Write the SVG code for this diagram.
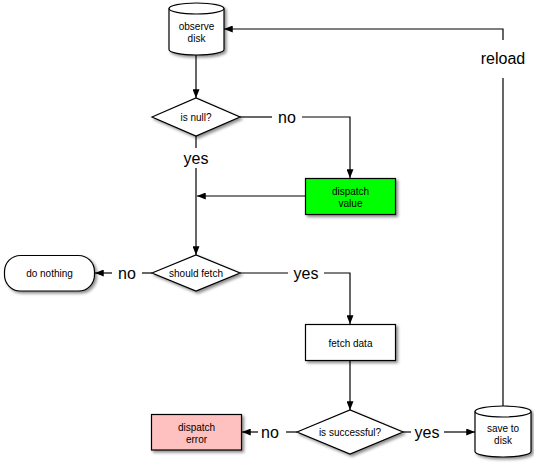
<svg xmlns="http://www.w3.org/2000/svg" width="534" height="465" viewBox="0 0 534 465">
<style>
.shape{stroke:#000;stroke-width:1.2;fill:#fff}
.t{font-family:"Liberation Sans",Arial,sans-serif;font-size:10px;fill:#000;text-anchor:middle}
.lbl{font-family:"Liberation Sans",Arial,sans-serif;font-size:16px;fill:#000;text-anchor:middle}
.c{fill:none;stroke:#000;stroke-width:1.2}
.ca{fill:none;stroke:#000;stroke-width:1.2;marker-end:url(#arr)}
</style>
<defs>
<filter id="sh" x="-20%" y="-20%" width="150%" height="150%">
<feDropShadow dx="2" dy="2" stdDeviation="1.5" flood-color="#000" flood-opacity="0.45"/>
</filter>
<marker id="arr" viewBox="0 0 10 8" refX="10" refY="4" markerWidth="9" markerHeight="7" markerUnits="userSpaceOnUse" orient="auto">
<path d="M0,0 L10,4 L0,8 z" fill="#000"/>
</marker>
</defs>
<rect width="534" height="465" fill="#fff"/>
<g id="connectors">
<path class="ca" d="M196,55 L196,98"/>
<path class="c" d="M240,117 L272,117"/>
<path class="ca" d="M302,117 L350,117 L350,178"/>
<path class="c" d="M196,136 L196,148"/>
<path class="ca" d="M196,168 L196,255"/>
<path class="ca" d="M305,196 L197,196"/>
<path class="c" d="M152,273 L142,273"/>
<path class="ca" d="M112,273 L95,273"/>
<path class="c" d="M240,273 L288,273"/>
<path class="ca" d="M324,273 L350,273 L350,324"/>
<path class="ca" d="M350,361 L350,410"/>
<path class="c" d="M297,432 L286,432"/>
<path class="ca" d="M258,432 L242,432"/>
<path class="c" d="M403,432 L411,432"/>
<path class="ca" d="M444,432 L475,432"/>
<path class="c" d="M503,406 L503,78"/>
<path class="ca" d="M503,40 L503,29 L224,29"/>
<text class="lbl" x="287" y="123">no</text>
<text class="lbl" x="196" y="164">yes</text>
<text class="lbl" x="127" y="279">no</text>
<text class="lbl" x="306" y="279">yes</text>
<text class="lbl" x="270" y="438">no</text>
<text class="lbl" x="427" y="438">yes</text>
<text class="lbl" x="503" y="64">reload</text>
</g>
<g id="observe-disk">
<path class="shape" filter="url(#sh)" d="M169,8.5 A27.5,5.5 0 0 1 224,8.5 L224,49.5 A27.5,5.5 0 0 1 169,49.5 Z"/>
<path class="c" d="M169,8.5 A27.5,5.5 0 0 0 224,8.5"/>
<text class="t" x="196.5" y="30">observe</text>
<text class="t" x="196.5" y="42">disk</text>
</g>
<g id="is-null">
<polygon class="shape" filter="url(#sh)" points="152,117 196,98 240,117 196,136"/>
<text class="t" x="196" y="120.5">is null?</text>
</g>
<g id="dispatch-value">
<rect class="shape" filter="url(#sh)" x="305.5" y="178.5" width="90" height="36" style="fill:#00ff00"/>
<text class="t" x="350.5" y="195">dispatch</text>
<text class="t" x="350.5" y="207">value</text>
</g>
<g id="should-fetch">
<polygon class="shape" filter="url(#sh)" points="152,273 196,255 240,273 196,291"/>
<text class="t" x="196" y="276.5">should fetch</text>
</g>
<g id="do-nothing">
<rect class="shape" filter="url(#sh)" x="4.5" y="255.5" width="90" height="35.5" rx="16" ry="16"/>
<text class="t" x="49.5" y="276.5">do nothing</text>
</g>
<g id="fetch-data">
<rect class="shape" filter="url(#sh)" x="305.5" y="324.5" width="90" height="36"/>
<text class="t" x="350.5" y="346.5">fetch data</text>
</g>
<g id="is-successful">
<polygon class="shape" filter="url(#sh)" points="297,432 350,410 403,432 350,454"/>
<text class="t" x="350" y="435.5">is successful?</text>
</g>
<g id="dispatch-error">
<rect class="shape" filter="url(#sh)" x="151.5" y="414.5" width="90" height="35.5" style="fill:#ffc0c0"/>
<text class="t" x="196.5" y="431">dispatch</text>
<text class="t" x="196.5" y="443">error</text>
</g>
<g id="save-to-disk">
<path class="shape" filter="url(#sh)" d="M475,411.5 A28,5.5 0 0 1 531,411.5 L531,451.5 A28,5.5 0 0 1 475,451.5 Z"/>
<path class="c" d="M475,411.5 A28,5.5 0 0 0 531,411.5"/>
<text class="t" x="503" y="432">save to</text>
<text class="t" x="503" y="444">disk</text>
</g>
</svg>
